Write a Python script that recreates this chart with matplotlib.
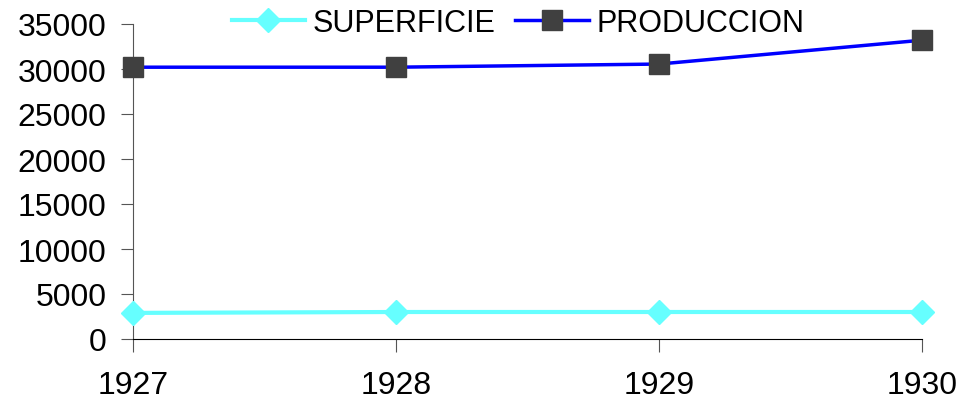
import matplotlib.pyplot as plt

years = [1927, 1928, 1929, 1930]
superficie = [2900, 3000, 3000, 3000]
produccion = [30200, 30200, 30550, 33200]
yticks = [0, 5000, 10000, 15000, 20000, 25000, 30000, 35000]

plt.rcParams['font.family'] = ['Liberation Sans', 'DejaVu Sans']

fig = plt.figure(figsize=(9.58, 4.06), dpi=100)
ax = fig.add_axes([133/958, 66/406, (922-133)/958, 315/406])

ax.plot(years, superficie, color='#66FFFF', lw=3, marker='D', ms=12,
        mfc='#66FFFF', mec='#66FFFF', label='SUPERFICIE', clip_on=False, zorder=3)
ax.plot(years, produccion, color='#0000FF', lw=2.5, marker='s', ms=15,
        mfc='#404040', mec='#404040', label='PRODUCCION', clip_on=False, zorder=3)

ax.set_xlim(1927, 1930)
ax.set_ylim(0, 35000)
ax.set_xticks(years)
ax.set_xticklabels([str(y) for y in years])
ax.set_yticks(yticks)

for s in ['top', 'right']:
    ax.spines[s].set_visible(False)
ax.spines['left'].set_color('#555555')
ax.spines['bottom'].set_color('black')
ax.tick_params(axis='y', direction='out', length=9, labelsize=23, pad=10, color='#555555')
ax.tick_params(axis='x', direction='out', length=9, labelsize=23, pad=13, color='#555555')

leg = fig.legend(loc='center', bbox_to_anchor=(518/958, 1 - 24/406), ncol=2, frameon=False,
                 fontsize=22, handlelength=2.4, columnspacing=0.65, handletextpad=0.25,
                 borderaxespad=0, borderpad=0)

fig.savefig('out.png', dpi=100)
